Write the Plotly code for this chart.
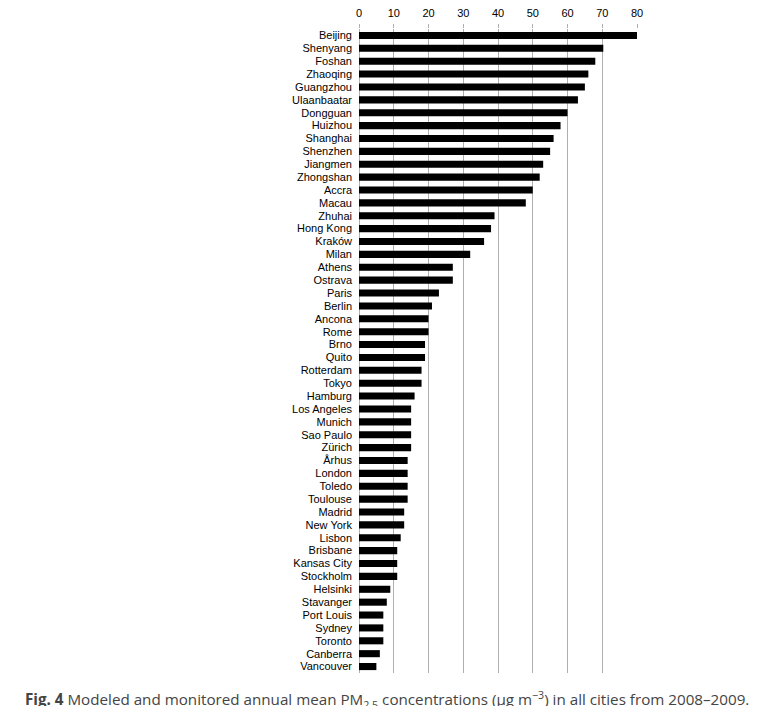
import plotly.graph_objects as go

cities = [
    'Beijing', 'Shenyang', 'Foshan', 'Zhaoqing', 'Guangzhou', 'Ulaanbaatar',
    'Dongguan', 'Huizhou', 'Shanghai', 'Shenzhen', 'Jiangmen', 'Zhongshan',
    'Accra', 'Macau', 'Zhuhai', 'Hong Kong', 'Kraków', 'Milan', 'Athens',
    'Ostrava', 'Paris', 'Berlin', 'Ancona', 'Rome', 'Brno', 'Quito',
    'Rotterdam', 'Tokyo', 'Hamburg', 'Los Angeles', 'Munich', 'Sao Paulo',
    'Zürich', 'Århus', 'London', 'Toledo', 'Toulouse', 'Madrid', 'New York',
    'Lisbon', 'Brisbane', 'Kansas City', 'Stockholm', 'Helsinki', 'Stavanger',
    'Port Louis', 'Sydney', 'Toronto', 'Canberra', 'Vancouver'
]
pm25 = [
    80, 70.3, 68, 66, 65, 63,
    60, 58, 56, 55, 53, 52,
    50, 48, 39, 38, 36, 32, 27,
    27, 23, 21, 20, 20, 19, 19,
    18, 18, 16, 15, 15, 15,
    15, 14, 14, 14, 14, 13, 13,
    12, 11, 11, 11, 9, 8,
    7, 7, 7, 6, 5
]
x_ticks = [0, 10, 20, 30, 40, 50, 60, 70, 80]

caption = ('<b>Fig. 4</b> Modeled and monitored annual mean PM<sub>2.5</sub> '
           'concentrations (μg m<sup>−3</sup>) in all cities from 2008–2009.')

# page body adds 8px around the plot div
OFF = 8
W, H = 764 - 2 * OFF, 714 - 2 * OFF
ml, mr, mt, mb = 359 - OFF, 127 - OFF, 29 - OFF, 41 - OFF

fig = go.Figure(go.Bar(
    x=pm25,
    y=cities,
    orientation='h',
    marker=dict(color='black', line=dict(width=0)),
    width=0.55,
))

fig.update_layout(
    template='none',
    width=W,
    height=H,
    margin=dict(l=ml, r=mr, t=mt, b=mb, pad=0),
    paper_bgcolor='white',
    plot_bgcolor='white',
    showlegend=False,
    font=dict(family='Liberation Sans, Arial, sans-serif', size=11, color='black'),
    title=dict(
        text=caption,
        xref='container', yref='container',
        x=(25 - OFF) / W,
        y=1 - (700 - OFF) / H,
        xanchor='left', yanchor='middle',
        automargin=False,
        font=dict(family='Open Sans, Lato, sans-serif', size=15.2, color='#444444'),
    ),
)

fig.update_xaxes(
    side='top',
    range=[0, 80],
    tickvals=x_ticks,
    showgrid=True,
    gridcolor='rgb(175,175,175)',
    gridwidth=1.2,
    zeroline=True,
    zerolinecolor='rgb(175,175,175)',
    zerolinewidth=1.2,
    ticks='outside',
    ticklen=4,
    tickwidth=1.2,
    tickcolor='rgb(175,175,175)',
    ticklabelstandoff=3,
    tickfont=dict(size=11, color='black'),
    showline=False,
    automargin=False,
    fixedrange=True,
    layer='below traces',
)

fig.update_yaxes(
    categoryorder='array',
    categoryarray=cities,
    tickmode='array',
    tickvals=cities,
    autorange='reversed',
    showgrid=False,
    zeroline=False,
    ticks='',
    ticklabelstandoff=6,
    tickfont=dict(size=11, color='black'),
    showline=False,
    automargin=False,
    fixedrange=True,
)

fig.write_html('out.html')
